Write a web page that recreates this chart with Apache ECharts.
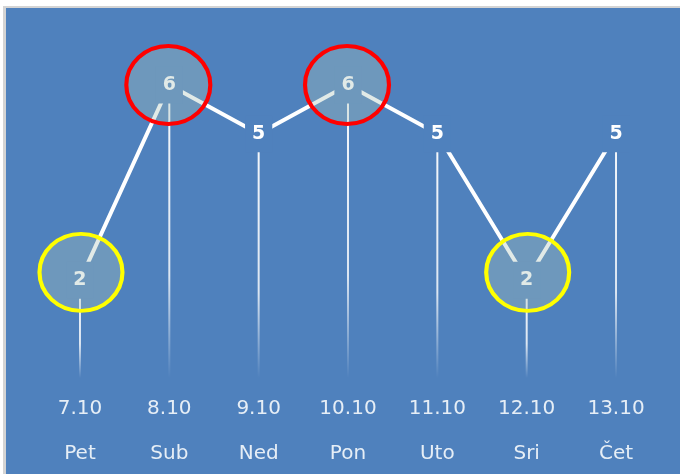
<!DOCTYPE html>
<html>
<head>
<meta charset="utf-8">
<script src="https://cdn.jsdelivr.net/npm/echarts@6/dist/echarts.min.js"></script>
<style>
  html, body { margin: 0; padding: 0; background: #ffffff; width: 680px; height: 474px; overflow: hidden; }
  #wrap { position: absolute; left: 3px; top: 6px; border-left: 3px solid #d4d4d4; border-top: 2px solid #d4d4d4; }
  #chart { width: 674px; height: 466px; }
</style>
</head>
<body>
<div id="wrap"><div id="chart"></div></div>
<script>
const dates = ['7.10', '8.10', '9.10', '10.10', '11.10', '12.10', '13.10'];
const days = ['Pet', 'Sub', 'Ned', 'Pon', 'Uto', 'Sri', 'Čet'];
const values = [2, 6, 5, 6, 5, 2, 5];

const BG = '#4F81BD';
const maxV = Math.max(...values);
const minV = Math.min(...values);
const highPts = values.map((v, i) => v === maxV ? [i, v] : null).filter(Boolean);
const lowPts = values.map((v, i) => v === minV ? [i, v] : null).filter(Boolean);
const categories = dates.map((d, i) => d + '\n' + days[i]);

const chart = echarts.init(document.getElementById('chart'));
chart.setOption({
  backgroundColor: BG,
  animation: false,
  grid: { left: 29.3, right: 19.3, top: 77, bottom: 96 },
  xAxis: {
    type: 'category',
    data: categories,
    boundaryGap: true,
    axisLine: { show: false },
    axisTick: { show: false },
    axisLabel: {
      margin: 8,
      formatter: function (v) {
        const p = v.split('\n');
        return '{a|' + p[0] + '}\n{b|' + p[1] + '}';
      },
      rich: {
        a: { fontFamily: 'DejaVu Sans', fontSize: 20, color: '#E6EEF6', lineHeight: 45 },
        b: { fontFamily: 'DejaVu Sans', fontSize: 20, color: '#E6EEF6', lineHeight: 45 }
      }
    }
  },
  yAxis: {
    type: 'value', min: 0, max: 6,
    show: false,
    splitLine: { show: false }
  },
  series: [
    {
      type: 'bar',
      data: values,
      barWidth: 2,
      z: 1,
      itemStyle: {
        color: new echarts.graphic.LinearGradient(0, 0, 0, 1, [
          { offset: 0, color: 'rgba(255,255,255,0.95)' },
          { offset: 0.65, color: 'rgba(255,255,255,0.8)' },
          { offset: 1, color: 'rgba(255,255,255,0)' }
        ])
      },
      silent: true
    },
    {
      type: 'line',
      data: values,
      z: 2,
      symbol: 'circle',
      symbolSize: 1,
      itemStyle: { color: 'rgba(0,0,0,0)' },
      lineStyle: { color: '#ffffff', width: 4 },
      label: {
        show: true,
        position: 'inside',
        fontFamily: 'DejaVu Sans',
        fontWeight: 'bold',
        fontSize: 19,
        color: '#ffffff',
        backgroundColor: BG,
        padding: [9, 7, 9, 7]
      }
    },
    {
      type: 'scatter',
      data: lowPts,
      z: 3,
      symbol: 'circle',
      symbolSize: [83, 77],
      symbolOffset: [1, -8],
      itemStyle: { color: 'rgba(170,195,185,0.35)', borderColor: '#FFFF00', borderWidth: 4, opacity: 1 },
      silent: true
    },
    {
      type: 'scatter',
      data: highPts,
      z: 3,
      symbol: 'circle',
      symbolSize: [84, 78],
      symbolOffset: [-1, 0],
      itemStyle: { color: 'rgba(170,195,185,0.35)', borderColor: '#FF0000', borderWidth: 4, opacity: 1 },
      silent: true
    }
  ]
});
</script>
</body>
</html>
